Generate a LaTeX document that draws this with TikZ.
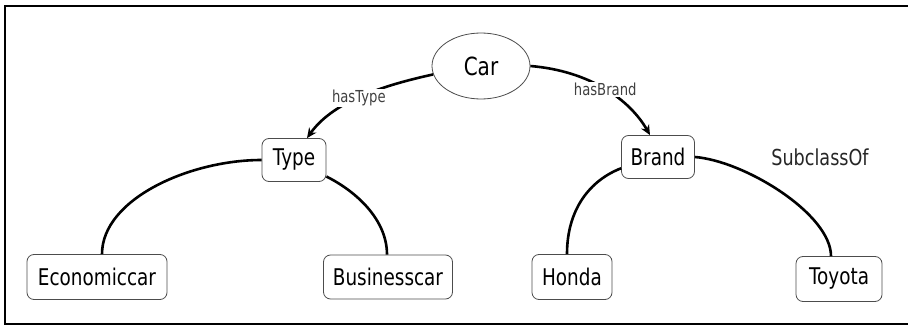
\documentclass[tikz,border=0pt]{standalone}
\usepackage{fontspec}
\setmainfont{DejaVu Sans}[FakeStretch=0.8]
\usetikzlibrary{shapes.geometric,arrows.meta}
\begin{document}
\begin{tikzpicture}[x=1pt,y=-1pt,
  cls/.style={draw=black!70,line width=0.8pt,rounded corners=7pt,inner sep=0pt,
    minimum height=43pt,font=\fontsize{23}{23}\selectfont},
  rel/.style={line width=2.6pt,black},
  arr/.style={-{Stealth[length=10pt,width=9pt]}},
  lbl/.style={fill=white,inner sep=1pt,text=black!75,font=\fontsize{16.5}{16.5}\selectfont},
  note/.style={inner sep=0pt,text=black!85,font=\fontsize{22}{22}\selectfont}]
\useasboundingbox (0,0) rectangle (908,329);
\draw[line width=2.5pt] (908,6) -- (5,6) -- (5,324) -- (908,324);

\node[ellipse,draw=black!70,line width=0.8pt,minimum width=98pt,minimum height=66pt,
  inner sep=0pt,font=\fontsize{25}{25}\selectfont] (car) at (481,66) {Car};
\node[cls,minimum width=64pt] (type) at (294,160) {Type};
\node[cls,minimum width=73pt] (brand) at (658,157) {Brand};
\node[cls,minimum width=140pt,minimum height=45pt] (eco) at (97,277) {Economiccar};
\node[cls,minimum width=129pt,minimum height=44pt] (bus) at (388,277) {Businesscar};
\node[cls,minimum width=80pt,minimum height=45pt] (honda) at (572,277) {Honda};
\node[cls,minimum width=86pt,minimum height=45pt] (toyota) at (839,279) {Toyota};
\node[note] (sub) at (820,157) {SubclassOf};

\draw[rel,arr] (car.190) .. controls +(-55,12) and +(25,-35) .. ([xshift=13pt]type.north)
  node[lbl,pos=0.5] {hasType};
\draw[rel,arr] (car.east) .. controls +(60,5) and +(-20,-35) .. ([xshift=-8pt]brand.north)
  node[lbl,pos=0.5] {hasBrand};

\draw[rel] (type.west) .. controls +(-72,0) and +(0,-55) .. ([xshift=5pt]eco.north);
\draw[rel] (type.-27) .. controls +(30,15) and +(0,-35) .. ([xshift=-1pt]bus.north);
\draw[rel] (brand.197) .. controls +(-31,12) and +(0,-45) .. ([xshift=-5pt]honda.north);
\draw[rel] (brand.east) .. controls +(50,4) and +(0,-42) .. ([xshift=-8pt]toyota.north);
\end{tikzpicture}
\end{document}
